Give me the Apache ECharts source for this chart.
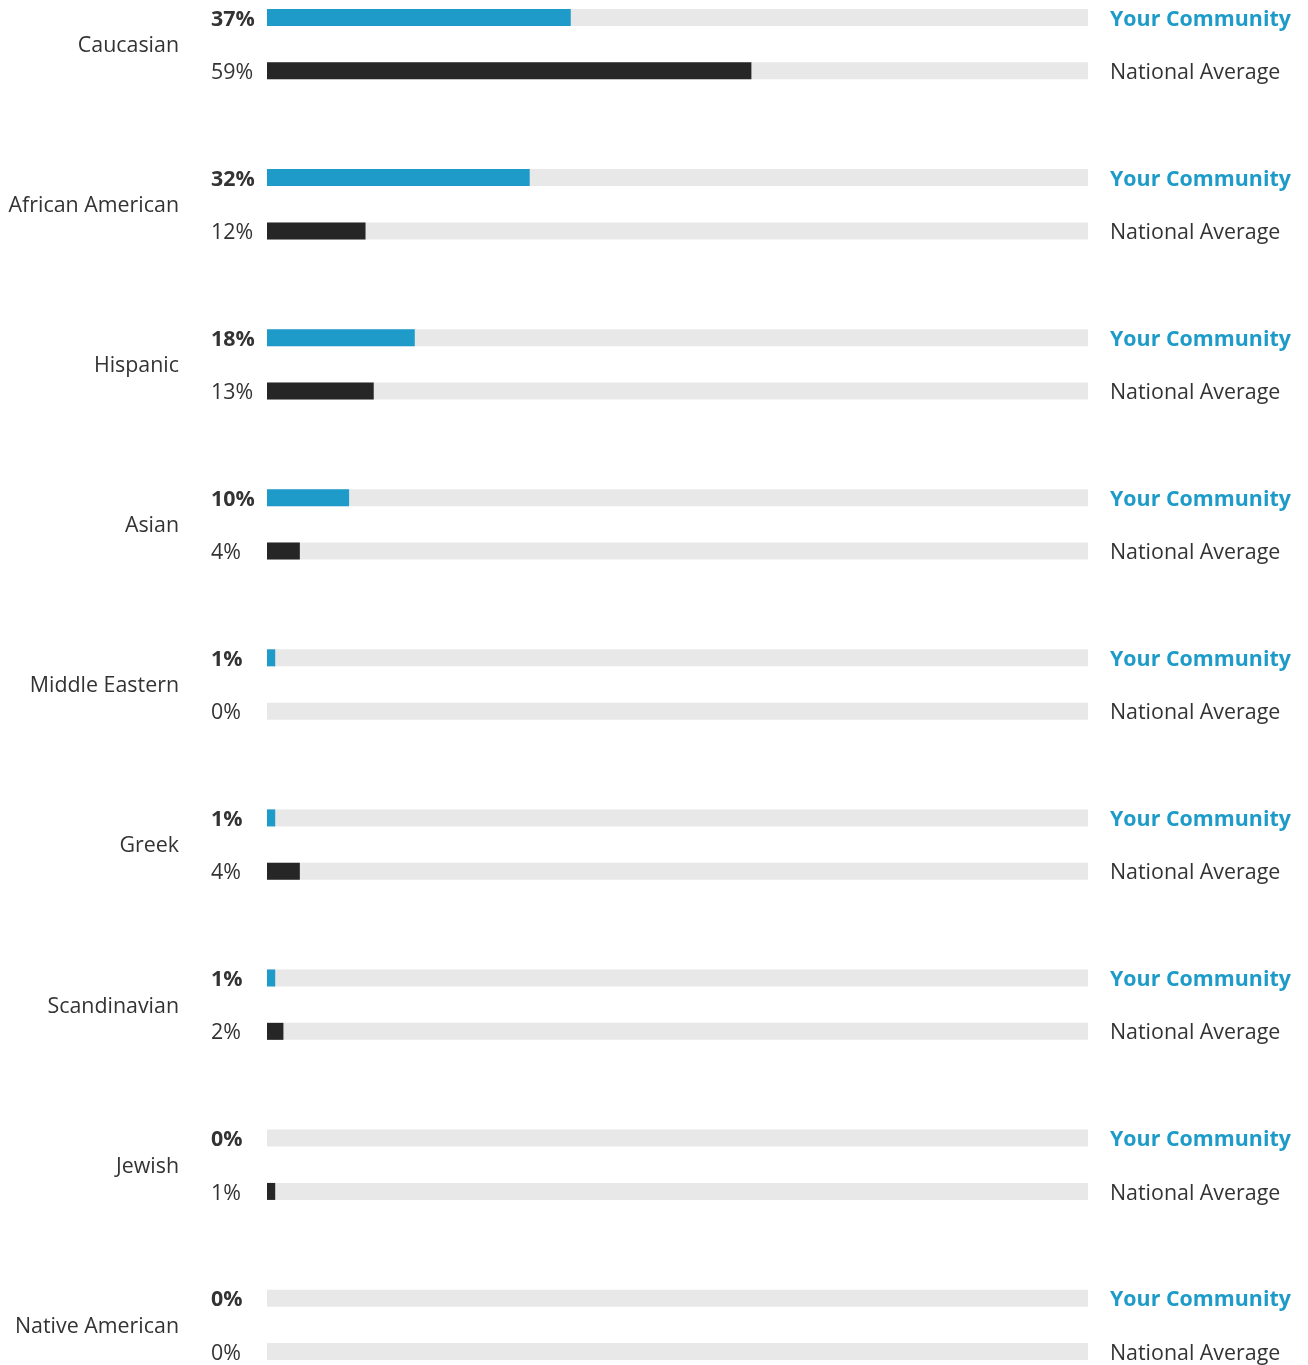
<!DOCTYPE html>
<html>
<head>
<meta charset="utf-8">
<script src="https://cdn.jsdelivr.net/npm/echarts@6/dist/echarts.min.js"></script>
<style>
html,body{margin:0;padding:0;background:#fff;}
#chart{width:1308px;height:1365px;}
</style>
</head>
<body>
<div id="chart"></div>
<script>
const groups = ['Caucasian', 'African American', 'Hispanic', 'Asian', 'Middle Eastern', 'Greek', 'Scandinavian', 'Jewish', 'Native American'];
const communityValues = [37, 32, 18, 10, 1, 1, 1, 0, 0];
const nationalValues = [59, 12, 13, 4, 0, 4, 2, 1, 0];
const communityLabel = 'Your Community';
const nationalLabel = 'National Average';
const trackMax = 100;

const BLUE = '#1e9bc9';
const DARK = '#262626';
const TRACK = '#e8e8e8';
const TEXT = '#333333';
const FONT = '"Open Sans", sans-serif';
const FS = 21.4;

// Build rows: community row, national row, spacer row between groups
const rows = [];
const commData = [];
const natData = [];
const trackData = [];
groups.forEach((g, i) => {
  rows.push(g + '|c'); commData.push(communityValues[i]); natData.push('-'); trackData.push(trackMax);
  rows.push(g + '|n'); commData.push('-'); natData.push(nationalValues[i]); trackData.push(trackMax);
  if (i < groups.length - 1) {
    rows.push(g + '|s'); commData.push('-'); natData.push('-'); trackData.push('-');
  }
});

const chart = echarts.init(document.getElementById('chart'), null, {renderer: 'canvas'});
const BAR_W = 17;
chart.setOption({
  animation: false,
  grid: {left: 267, right: 220, top: 17.5, bottom: 13.5, outerBoundsMode: 'none', containLabel: false},
  xAxis: {type: 'value', min: 0, max: trackMax, show: false},
  yAxis: [{
    type: 'category',
    data: rows,
    inverse: true,
    boundaryGap: false,
    position: 'left',
    axisLine: {show: false},
    axisTick: {show: false},
    splitLine: {show: false},
    axisLabel: {
      interval: 0,
      margin: 88,
      formatter: v => {
        const [g, t] = v.split('|');
        return t === 'c' ? '{g|' + g + '}' : '';
      },
      rich: {
        g: {fontFamily: FONT, fontSize: FS, color: TEXT, padding: [57, 0, 0, 0]}
      }
    }
  }, {
    type: 'category',
    data: rows,
    inverse: true,
    boundaryGap: false,
    position: 'right',
    axisLine: {show: false},
    axisTick: {show: false},
    splitLine: {show: false},
    axisLabel: {
      interval: 0,
      margin: 22,
      align: 'left',
      formatter: v => {
        const t = v.split('|')[1];
        if (t === 'c') return '{c|' + communityLabel + '}';
        if (t === 'n') return '{n|' + nationalLabel + '}';
        return '';
      },
      rich: {
        c: {fontFamily: FONT, fontSize: FS, fontWeight: 'bold', color: BLUE, padding: [4, 0, 0, 0]},
        n: {fontFamily: FONT, fontSize: FS, color: TEXT, padding: [4, 0, 0, 0]}
      }
    }
  }],
  series: [{
    type: 'bar',
    name: 'track',
    data: trackData,
    barWidth: BAR_W,
    barGap: '-100%',
    silent: true,
    itemStyle: {color: TRACK},
    z: 1
  }, {
    type: 'bar',
    name: communityLabel,
    data: commData,
    barWidth: BAR_W,
    barGap: '-100%',
    itemStyle: {color: BLUE},
    z: 2,
    label: {
      show: true,
      position: [-56, BAR_W / 2 + 2],
      align: 'left',
      verticalAlign: 'middle',
      formatter: p => p.value + '%',
      fontFamily: FONT,
      fontSize: FS,
      fontWeight: 'bold',
      color: TEXT
    }
  }, {
    type: 'bar',
    name: nationalLabel,
    data: natData,
    barWidth: BAR_W,
    barGap: '-100%',
    itemStyle: {color: DARK},
    z: 2,
    label: {
      show: true,
      position: [-56, BAR_W / 2 + 2],
      align: 'left',
      verticalAlign: 'middle',
      formatter: p => p.value + '%',
      fontFamily: FONT,
      fontSize: FS,
      color: TEXT
    }
  }]
});
</script>
</body>
</html>
